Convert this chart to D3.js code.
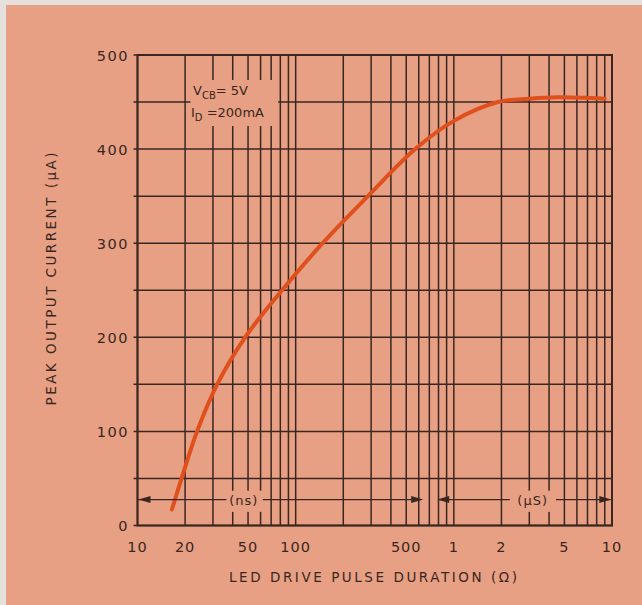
<!DOCTYPE html>
<html><head><meta charset="utf-8">
<script src="https://cdn.jsdelivr.net/npm/d3@7"></script>
<style>body{margin:0;background:#e6e0dd;} svg{display:block;}</style>
</head><body>
<svg id="chart" width="642" height="605"></svg>
<script>
// ---- data ----
const pulseNs = [16.5, 19, 23.8, 31.9, 47.9, 82, 148, 286, 570, 1000, 1900, 3000, 4500, 9000];
const currentUA = [17, 50, 100, 150, 200, 250, 300, 350, 400, 430, 450, 453.5, 455, 453.5];
const xTickValues = [10, 20, 50, 100, 500, 1000, 2000, 5000, 10000];
const xTickLabels = ["10", "20", "50", "100", "500", "1", "2", "5", "10"];
const yTickValues = [0, 100, 200, 300, 400, 500];
const yGridValues = [0, 50, 100, 150, 200, 250, 300, 350, 400, 450, 500];
const xGridValues = [];
[10, 100, 1000].forEach(d => { for (let m = 1; m <= 9; m++) xGridValues.push(d * m); });
xGridValues.push(10000);

const BG = "#e7a084", INK = "#3a2621", CURVE = "#e0501c";
const FONT = "'DejaVu Sans', sans-serif";

const svg = d3.select("#chart");
svg.append("rect").attr("x", 6).attr("y", 5).attr("width", 636).attr("height", 600).attr("fill", BG);

const x = d3.scaleLog().domain([10, 10000]).range([137.5, 612]);
const y = d3.scaleLinear().domain([0, 500]).range([525.5, 55]);

const grid = svg.append("g").attr("stroke", INK).attr("stroke-width", 1.5);
grid.selectAll("line.h").data(yGridValues).join("line").attr("class", "h")
  .attr("x1", x(10) - 4).attr("x2", x(10000)).attr("y1", d => y(d)).attr("y2", d => y(d));
grid.selectAll("line.v").data(xGridValues).join("line").attr("class", "v")
  .attr("x1", d => x(d)).attr("x2", d => x(d)).attr("y1", y(0)).attr("y2", y(500));
svg.append("rect").attr("x", x(10)).attr("y", y(500)).attr("width", x(10000) - x(10)).attr("height", y(0) - y(500))
  .attr("fill", "none").attr("stroke", INK).attr("stroke-width", 2);

// masks for annotation areas
const masks = [
  [x(21.6), y(473.5), x(77.5), y(424.5)],
  [x(36), y(37), x(62), y(14.5)],
  [x(2260), y(37), x(4420), y(14.5)]
];
svg.selectAll("rect.mask").data(masks).join("rect").attr("class", "mask")
  .attr("x", d => d[0]).attr("y", d => d[1]).attr("width", d => d[2] - d[0]).attr("height", d => d[3] - d[1])
  .attr("fill", BG);

// curve
const pts = pulseNs.map((v, i) => [x(v), y(currentUA[i])]);
svg.append("path").attr("d", d3.line().curve(d3.curveCatmullRom.alpha(0.5))(pts))
  .attr("fill", "none").attr("stroke", CURVE).attr("stroke-width", 4).attr("stroke-linecap", "round");

// arrows
const ay = y(27.5);
const arr = svg.append("g").attr("stroke", INK).attr("stroke-width", 1.3);
arr.append("line").attr("x1", x(10)).attr("x2", x(36.5)).attr("y1", ay).attr("y2", ay);
arr.append("line").attr("x1", x(62)).attr("x2", x(620)).attr("y1", ay).attr("y2", ay);
arr.append("line").attr("x1", x(800)).attr("x2", x(2260)).attr("y1", ay).attr("y2", ay);
arr.append("line").attr("x1", x(4420)).attr("x2", x(9800)).attr("y1", ay).attr("y2", ay);
function head(tip, dir) {
  svg.append("path").attr("fill", INK)
    .attr("d", `M${tip},${ay} L${tip + dir * 12},${ay - 3.5} L${tip + dir * 12},${ay + 3.5} Z`);
}
head(x(10) + 1, 1);
head(x(640), -1);
head(x(785), 1);
head(x(9900), -1);

const txt = (xx, yy, s, size, anchor) => svg.append("text").attr("x", xx).attr("y", yy)
  .attr("font-family", FONT).attr("font-size", size).attr("fill", INK).attr("text-anchor", anchor || "middle").text(s);

txt(x(47), ay + 5, "(ns)", 13).attr("letter-spacing", 1);
txt(x(3150), ay + 5, "(\u03bcS)", 13).attr("letter-spacing", 1);

// annotation box text
const t1 = svg.append("text").attr("x", 193).attr("y", y(458)).attr("font-family", FONT).attr("font-size", 13).attr("fill", INK);
t1.append("tspan").text("V");
t1.append("tspan").attr("font-size", 10).attr("dy", 4).text("CB");
t1.append("tspan").attr("dy", -4).text("= 5V");
const t2 = svg.append("text").attr("x", 191).attr("y", y(434)).attr("font-family", FONT).attr("font-size", 13).attr("fill", INK);
t2.append("tspan").text("I");
t2.append("tspan").attr("font-size", 10).attr("dy", 4).text("D");
t2.append("tspan").attr("dy", -4).text(" =200mA");

// tick labels
svg.selectAll("text.xt").data(xTickValues).join("text").attr("class", "xt")
  .attr("x", d => x(d)).attr("y", 552).attr("text-anchor", "middle")
  .attr("font-family", FONT).attr("font-size", 14.5).attr("letter-spacing", 1).attr("fill", INK)
  .text((d, i) => xTickLabels[i]);
svg.selectAll("text.yt").data(yTickValues).join("text").attr("class", "yt")
  .attr("x", 129).attr("y", d => y(d) + 5.5).attr("text-anchor", "end")
  .attr("font-family", FONT).attr("font-size", 14.5).attr("letter-spacing", 1.5).attr("fill", INK)
  .text(d => d);

// axis titles
svg.append("text").attr("x", 373).attr("y", 582).attr("text-anchor", "middle")
  .attr("font-family", FONT).attr("font-size", 13.5).attr("fill", INK)
  .attr("textLength", 288).attr("lengthAdjust", "spacing")
  .text("LED DRIVE PULSE DURATION (\u03a9)");
svg.append("text").attr("transform", "translate(56,279) rotate(-90)").attr("text-anchor", "middle")
  .attr("font-family", FONT).attr("font-size", 13.5).attr("fill", INK)
  .attr("textLength", 253).attr("lengthAdjust", "spacing")
  .text("PEAK OUTPUT CURRENT (\u03bcA)");
</script>
</body></html>
